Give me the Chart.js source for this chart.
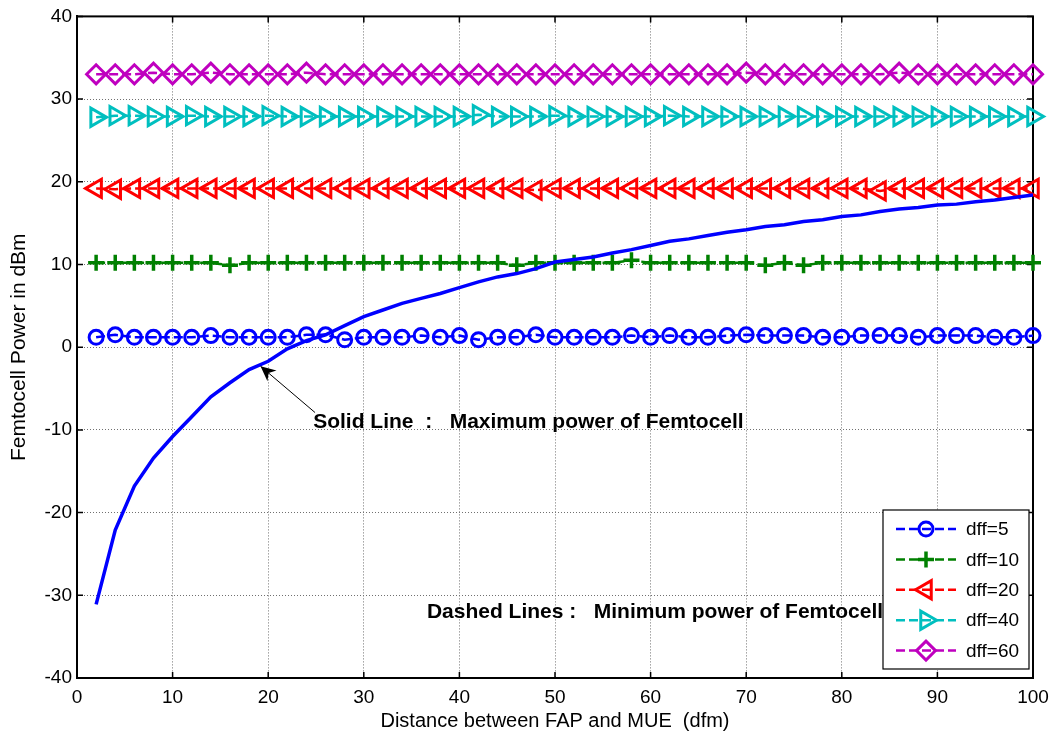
<!DOCTYPE html>
<html>
<head>
<meta charset="utf-8">
<title>Femtocell power</title>
<script src="https://cdn.jsdelivr.net/npm/chart.js@4/dist/chart.umd.min.js"></script>
<style>
  html, body { margin: 0; padding: 0; background: #fff; }
  #wrap { width: 1059px; height: 738px; }
</style>
</head>
<body>
<div id="wrap"><canvas id="femtoChart" width="1059" height="738"></canvas></div>
<script>
// distance between FAP and MUE (dfm)
const distance = [2, 4, 6, 8, 10, 12, 14, 16, 18, 20, 22, 24, 26, 28, 30, 32, 34, 36, 38, 40,
  42, 44, 46, 48, 50, 52, 54, 56, 58, 60, 62, 64, 66, 68, 70, 72, 74, 76, 78, 80,
  82, 84, 86, 88, 90, 92, 94, 96, 98, 100];

// solid line: maximum power of femtocell (dBm)
const maxPower = [-31.1, -22.1, -16.8, -13.4, -10.8, -8.4, -6.0, -4.3, -2.7, -1.7,
  -0.2, 0.8, 1.5, 2.6, 3.7, 4.5, 5.3, 5.9, 6.5, 7.2,
  7.9, 8.5, 8.9, 9.5, 10.3, 10.6, 10.9, 11.4, 11.8, 12.3,
  12.8, 13.1, 13.5, 13.9, 14.2, 14.6, 14.8, 15.2, 15.4, 15.8,
  16.0, 16.4, 16.7, 16.9, 17.2, 17.3, 17.6, 17.8, 18.1, 18.4];

// dashed lines: minimum power of femtocell (dBm)
const minDff5 = [1.2, 1.5, 1.2, 1.2, 1.2, 1.2, 1.4, 1.2, 1.2, 1.2,
  1.2, 1.5, 1.5, 0.9, 1.2, 1.2, 1.2, 1.4, 1.2, 1.4,
  0.9, 1.2, 1.2, 1.5, 1.2, 1.2, 1.2, 1.2, 1.4, 1.2,
  1.4, 1.2, 1.2, 1.4, 1.5, 1.4, 1.4, 1.4, 1.2, 1.2,
  1.4, 1.4, 1.4, 1.2, 1.4, 1.4, 1.4, 1.2, 1.2, 1.4];
const minDff10 = [10.2, 10.2, 10.2, 10.2, 10.2, 10.2, 10.2, 9.9, 10.2, 10.2,
  10.2, 10.2, 10.2, 10.2, 10.2, 10.2, 10.2, 10.2, 10.2, 10.2,
  10.2, 10.2, 9.9, 10.2, 10.2, 10.2, 10.2, 10.2, 10.5, 10.2,
  10.2, 10.2, 10.2, 10.2, 10.2, 9.9, 10.2, 9.9, 10.2, 10.2,
  10.2, 10.2, 10.2, 10.2, 10.2, 10.2, 10.2, 10.2, 10.2, 10.2];
const minDff20 = [19.2, 19.1, 19.2, 19.2, 19.2, 19.2, 19.2, 19.2, 19.2, 19.2,
  19.2, 19.2, 19.2, 19.2, 19.2, 19.2, 19.2, 19.2, 19.2, 19.2,
  19.2, 19.2, 19.2, 19.0, 19.2, 19.2, 19.2, 19.2, 19.2, 19.2,
  19.2, 19.2, 19.2, 19.2, 19.2, 19.2, 19.2, 19.2, 19.2, 19.2,
  19.2, 18.9, 19.2, 19.2, 19.2, 19.2, 19.2, 19.2, 19.2, 19.2];
const minDff40 = [27.8, 28.0, 28.0, 27.9, 27.9, 28.0, 27.9, 27.9, 27.9, 28.0,
  27.9, 27.9, 27.9, 27.9, 27.9, 27.9, 27.9, 27.9, 27.9, 27.9,
  28.1, 27.9, 27.9, 27.9, 28.0, 27.9, 27.9, 27.9, 27.9, 27.9,
  28.0, 27.9, 27.9, 27.9, 27.9, 27.9, 27.9, 27.9, 27.9, 27.9,
  27.9, 27.9, 27.9, 27.9, 27.9, 27.9, 27.9, 27.9, 27.9, 27.9];
const minDff60 = [33.0, 33.0, 33.0, 33.2, 33.0, 33.0, 33.2, 33.0, 33.0, 33.0,
  33.0, 33.2, 33.0, 33.0, 33.0, 33.0, 33.0, 33.0, 33.0, 33.0,
  33.0, 33.0, 33.0, 33.0, 33.0, 33.0, 33.0, 33.0, 33.0, 33.0,
  33.0, 33.0, 33.0, 33.0, 33.2, 33.0, 33.0, 33.0, 33.0, 33.0,
  33.0, 33.0, 33.2, 33.0, 33.0, 33.0, 33.0, 33.0, 33.0, 33.0];

const legendLabels = ['dff=5', 'dff=10', 'dff=20', 'dff=40', 'dff=60'];

const xTickValues = [0, 10, 20, 30, 40, 50, 60, 70, 80, 90, 100];
const yTickValues = [-40, -30, -20, -10, 0, 10, 20, 30, 40];

const FONT = "'Liberation Sans', Arial, Helvetica, sans-serif";

// text notes, anchored in data units (left edge, middle)
const notes = [
  { text: 'Solid Line  :   Maximum power of Femtocell', x: 24.7, y: -9.1 },
  { text: 'Dashed Lines :   Minimum power of Femtocell', x: 36.6, y: -32.1 },
];
const arrowNote = { from: [24.9, -7.9], to: [19.2, -2.3] };

const toPoints = ys => distance.map((d, i) => ({ x: d, y: ys[i] }));

function dashedSeries(label, values, color, style, radius, rotation, markerWidth) {
  return {
    label,
    data: toPoints(values),
    borderColor: color,
    borderWidth: 2.5,
    borderDash: [9, 4],
    pointStyle: style,
    pointRadius: radius,
    pointRotation: rotation || 0,
    pointBorderColor: color,
    pointBackgroundColor: 'rgba(0,0,0,0)',
    pointBorderWidth: markerWidth || 3,
    tension: 0,
    clip: false,
    inLegend: true,
  };
}

const datasets = [
  {
    label: 'max',
    data: toPoints(maxPower),
    borderColor: '#0000ff',
    borderWidth: 3.5,
    pointRadius: 0,
    tension: 0,
    inLegend: false,
  },
  dashedSeries(legendLabels[0], minDff5, '#0000ff', 'circle', 7, 0, 3),
  dashedSeries(legendLabels[1], minDff10, '#008000', 'cross', 8, 0, 3.5),
  dashedSeries(legendLabels[2], minDff20, '#ff0000', 'triangle', 10.5, -90, 3),
  dashedSeries(legendLabels[3], minDff40, '#00bfbf', 'triangle', 10.5, 90, 3),
  dashedSeries(legendLabels[4], minDff60, '#bf00bf', 'rectRot', 9.5, 0, 3),
];

// MATLAB-like frame with inward ticks, drawn under the data
const framePlugin = {
  id: 'frame',
  beforeDatasetsDraw(chart) {
    const { ctx, chartArea: a, scales: { x, y } } = chart;
    ctx.save();
    ctx.strokeStyle = '#000';
    ctx.lineWidth = 1.5;
    ctx.beginPath();
    xTickValues.forEach(v => {
      const px = x.getPixelForValue(v);
      ctx.moveTo(px, a.bottom); ctx.lineTo(px, a.bottom - 6);
      ctx.moveTo(px, a.top); ctx.lineTo(px, a.top + 6);
    });
    yTickValues.forEach(v => {
      const py = y.getPixelForValue(v);
      ctx.moveTo(a.left, py); ctx.lineTo(a.left + 6, py);
      ctx.moveTo(a.right, py); ctx.lineTo(a.right - 6, py);
    });
    ctx.stroke();
    ctx.lineWidth = 2;
    ctx.strokeRect(a.left, a.top, a.right - a.left, a.bottom - a.top);
    ctx.restore();
  },
};

// annotation text and arrow
const notesPlugin = {
  id: 'notes',
  afterDatasetsDraw(chart) {
    const { ctx, scales: { x, y } } = chart;
    ctx.save();
    ctx.fillStyle = '#000';
    ctx.font = 'bold 21px ' + FONT;
    ctx.textAlign = 'left';
    ctx.textBaseline = 'middle';
    notes.forEach(n => ctx.fillText(n.text, x.getPixelForValue(n.x), y.getPixelForValue(n.y)));

    const x1 = x.getPixelForValue(arrowNote.from[0]), y1 = y.getPixelForValue(arrowNote.from[1]);
    const x2 = x.getPixelForValue(arrowNote.to[0]), y2 = y.getPixelForValue(arrowNote.to[1]);
    const ang = Math.atan2(y2 - y1, x2 - x1);
    ctx.strokeStyle = '#000';
    ctx.lineWidth = 1;
    ctx.beginPath();
    ctx.moveTo(x1, y1);
    ctx.lineTo(x2, y2);
    ctx.stroke();
    const L = 15, W = 7;
    ctx.beginPath();
    ctx.moveTo(x2, y2);
    ctx.lineTo(x2 - L * Math.cos(ang) + W * Math.sin(ang), y2 - L * Math.sin(ang) - W * Math.cos(ang));
    ctx.lineTo(x2 - L * 0.7 * Math.cos(ang), y2 - L * 0.7 * Math.sin(ang));
    ctx.lineTo(x2 - L * Math.cos(ang) - W * Math.sin(ang), y2 - L * Math.sin(ang) + W * Math.cos(ang));
    ctx.closePath();
    ctx.fill();
    ctx.restore();
  },
};

// boxed legend in the lower right corner of the axes
const legendPlugin = {
  id: 'boxLegend',
  afterDraw(chart) {
    const { ctx, chartArea: a } = chart;
    const items = chart.data.datasets.filter(d => d.inLegend);
    const w = 146, rowH = 30.4, h = 159;
    const left = a.right - 4 - w, top = a.bottom - 9 - h;
    ctx.save();
    ctx.fillStyle = '#fff';
    ctx.fillRect(left, top, w, h);
    ctx.strokeStyle = '#000';
    ctx.lineWidth = 1.2;
    ctx.strokeRect(left, top, w, h);
    items.forEach((d, i) => {
      const cy = top + 19 + i * rowH;
      ctx.strokeStyle = d.borderColor;
      ctx.lineWidth = d.borderWidth;
      ctx.setLineDash(d.borderDash);
      ctx.beginPath();
      ctx.moveTo(left + 13, cy);
      ctx.lineTo(left + 73, cy);
      ctx.stroke();
      ctx.setLineDash([]);
      ctx.lineWidth = d.pointBorderWidth;
      ctx.fillStyle = 'rgba(0,0,0,0)';
      Chart.helpers.drawPoint(ctx, {
        pointStyle: d.pointStyle,
        rotation: d.pointRotation,
        radius: d.pointRadius,
        borderWidth: d.pointBorderWidth,
      }, left + 43, cy);
      ctx.fillStyle = '#000';
      ctx.font = '19px ' + FONT;
      ctx.textAlign = 'left';
      ctx.textBaseline = 'middle';
      ctx.fillText(d.label, left + 83, cy + 1);
    });
    ctx.restore();
  },
};

const tickFont = { family: FONT, size: 19 };

new Chart(document.getElementById('femtoChart').getContext('2d'), {
  type: 'line',
  data: { datasets },
  options: {
    responsive: false,
    animation: false,
    layout: { padding: { top: 16, right: 26, left: 0, bottom: 0 } },
    plugins: {
      legend: { display: false },
      tooltip: { enabled: false },
    },
    scales: {
      x: {
        type: 'linear',
        min: 0,
        max: 100,
        afterBuildTicks: s => { s.ticks = xTickValues.map(v => ({ value: v })); },
        afterFit: s => { s.height = 60; },
        ticks: { color: '#000', font: tickFont, padding: 8, maxRotation: 0, autoSkip: false },
        grid: { color: '#707070', lineWidth: 1, drawTicks: false },
        border: { display: true, color: '#000', width: 2, dash: [1, 2] },
        title: {
          display: true,
          text: 'Distance between FAP and MUE  (dfm)',
          color: '#000',
          font: { family: FONT, size: 20 },
          padding: { top: 0, bottom: 5 },
        },
      },
      y: {
        type: 'linear',
        min: -40,
        max: 40,
        afterBuildTicks: s => { s.ticks = yTickValues.map(v => ({ value: v })); },
        afterFit: s => { s.width = 77; },
        ticks: { color: '#000', font: tickFont, padding: 5, autoSkip: false },
        grid: { color: '#707070', lineWidth: 1, drawTicks: false },
        border: { display: true, color: '#000', width: 2, dash: [1, 2] },
        title: {
          display: true,
          text: 'Femtocell Power in dBm',
          color: '#000',
          font: { family: FONT, size: 21 },
          padding: { top: 7, bottom: 0 },
        },
      },
    },
  },
  plugins: [framePlugin, notesPlugin, legendPlugin],
});
</script>
</body>
</html>
